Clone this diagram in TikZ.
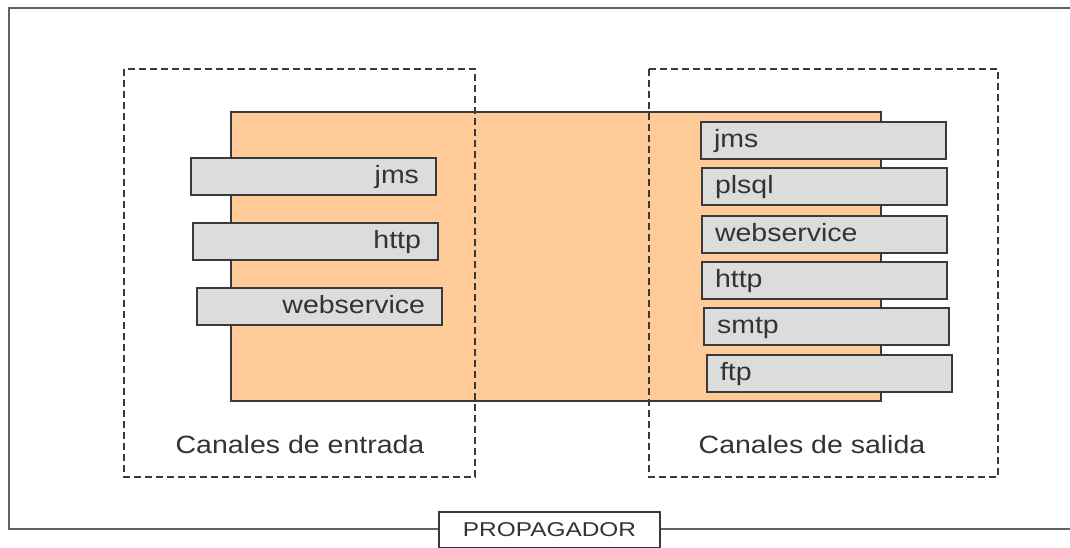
\documentclass[tikz,border=0pt]{standalone}
\usepackage{fontspec}
\setmainfont{Liberation Sans}
\definecolor{orangefill}{HTML}{FFCC99}
\definecolor{grayfill}{HTML}{DCDCDC}
\definecolor{edge}{HTML}{3A3A3A}
\definecolor{txt}{HTML}{333333}
\newcommand\stx[1]{\scalebox{1.14}[1]{#1}}
\newcommand\stp[1]{\scalebox{1.22}[1]{#1}}
\tikzset{
  frame/.style={draw=edge!80, line width=2pt},
  core/.style={draw=edge, fill=orangefill, line width=1.6pt},
  dashbox/.style={draw=edge, line width=2pt, dash pattern=on 7pt off 4pt},
  gbox/.style={draw=edge, fill=grayfill, line width=2pt, rectangle,
    minimum width=245pt, minimum height=37pt, anchor=north west,
    inner xsep=0pt, inner ysep=0pt, text=txt,
    font=\fontsize{25}{30}\selectfont, text height=18pt, text depth=5pt},
  rbox/.style={gbox, text width=211pt, align=right},
  lbox/.style={gbox, text width=219pt, align=left},
  lbl/.style={text=txt, font=\fontsize{25}{30}\selectfont, inner sep=0pt,
    text height=18pt, text depth=5pt},
  title/.style={draw=edge, fill=white, line width=1.5pt, text=txt,
    font=\fontsize{20}{24}\selectfont, minimum width=221pt, minimum height=36pt,
    inner sep=0pt, text height=14pt, text depth=2pt}
}
\begin{document}
\begin{tikzpicture}[x=1pt,y=-1pt]
\useasboundingbox (0,0) rectangle (1070,547);
\fill[white] (0,0) rectangle (1070,547);
% outer frame (open to the right)
\draw[frame] (1075,8) -- (9,8) -- (9,529) -- (1075,529);
% central component
\draw[core] (231,112) rectangle (881,401);
% dashed channel groups
\draw[dashbox] (124,69) rectangle (475,477);
\draw[dashbox] (649,69) rectangle (998,477);
% input channels
\node[rbox] (in1) at (190,157) {\stx{jms}};
\node[rbox] (in2) at (192,222) {\stx{http}};
\node[rbox] (in3) at (196,287) {\stx{webservice}};
% output channels
\node[lbox] (out1) at (700,121) {\stx{jms}};
\node[lbox] (out2) at (701,167) {\stx{plsql}};
\node[lbox] (out3) at (701,215) {\stx{webservice}};
\node[lbox] (out4) at (701,261) {\stx{http}};
\node[lbox] (out5) at (703,307) {\stx{smtp}};
\node[lbox] (out6) at (706,354) {\stx{ftp}};
% labels
\node[lbl] (lin) at (300,446.5) {\stx{Canales de entrada}};
\node[lbl] (lout) at (812,446.5) {\stx{Canales de salida}};
% title
\node[title] (prop) at (549.5,530) {\stp{PROPAGADOR}};
\end{tikzpicture}
\end{document}
